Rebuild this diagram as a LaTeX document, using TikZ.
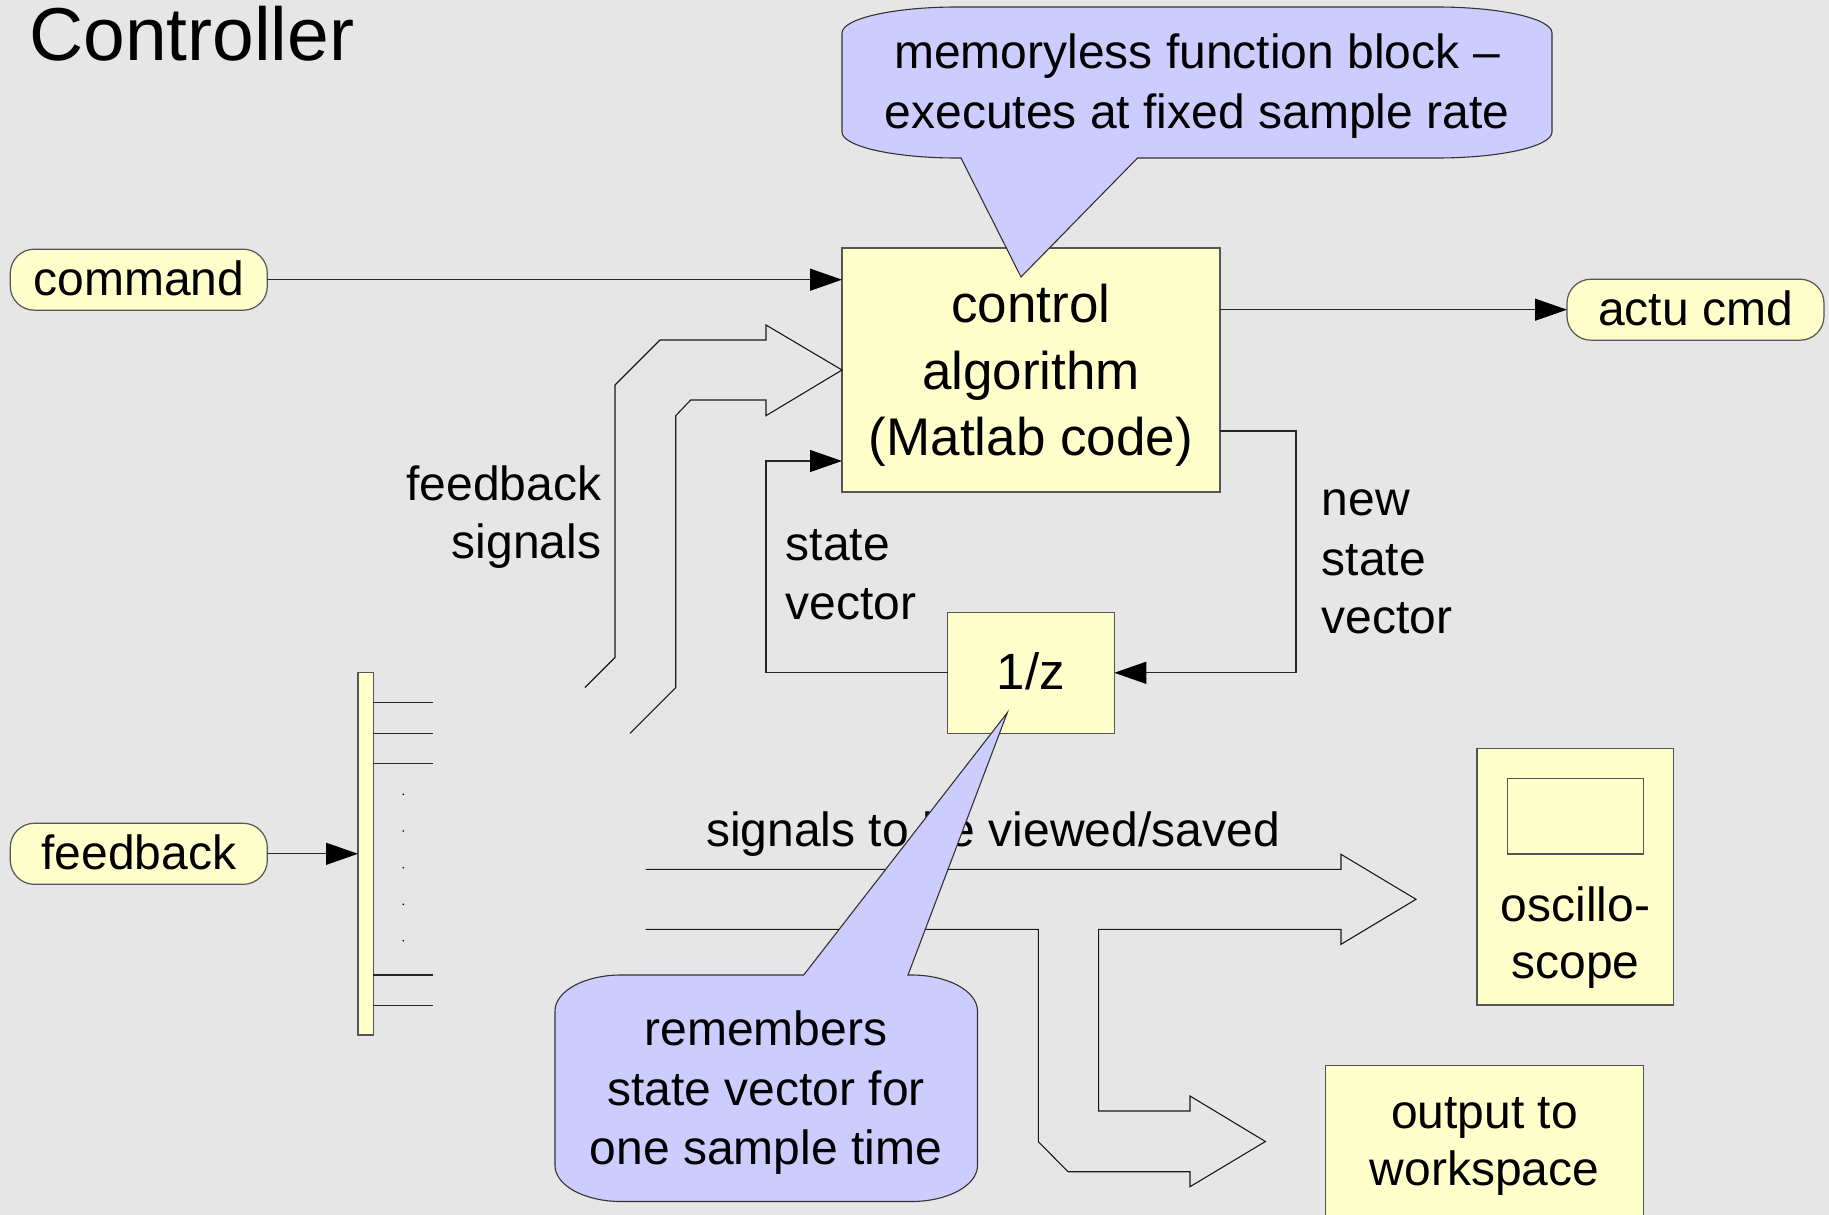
\documentclass[tikz,border=0pt]{standalone}
\usepackage{fontspec}
\setmainfont{Liberation Sans}
\usetikzlibrary{arrows.meta}
\definecolor{bg}{HTML}{E6E6E6}
\definecolor{ylw}{HTML}{FFFFCC}
\definecolor{lav}{HTML}{CCCCFF}
\definecolor{bord}{HTML}{555555}
\begin{document}
\begin{tikzpicture}[x=1pt,y=-1pt]
\tikzset{
  ybox/.style={draw=bord, fill=ylw, line width=1.2pt, inner sep=0pt, outer sep=0pt},
  pill/.style={ybox, rounded corners=24pt, minimum width=257pt, minimum height=61pt,
               text height=32pt, text depth=0pt, font=\fontsize{48}{58}\selectfont},
  lbl/.style={font=\fontsize{48}{58}\selectfont, inner sep=0pt},
  ctrlfont/.style={font=\fontsize{53}{64}\selectfont, inner sep=0pt},
  conn/.style={line width=1.2pt, draw=black!85},
  arr/.style={conn, -{Triangle[length=32pt,width=22pt,color=black]}},
  fat/.style={line width=1.1pt, draw=black!90},
  callout/.style={draw=black!80, fill=lav, line width=1.1pt},
  busline/.style={line width=1.2pt, draw=black!85}
}
\useasboundingbox (0,0) rectangle (1829,1215);
\fill[bg] (0,0) rectangle (1829,1215);
\clip (0,0) rectangle (1829,1215);

% title
\node[anchor=base west, inner sep=0pt, font=\fontsize{75}{90}\selectfont] (title) at (29,61) {Controller};

% main blocks
\node[ybox, minimum width=378pt, minimum height=244pt] (ctrl) at (1031,370) {};
\node[ctrlfont, anchor=base] (c1) at (1031,322.5) {control};
\node[ctrlfont, anchor=base] (c2) at (1031,389) {algorithm};
\node[ctrlfont, anchor=base] (c3) at (1031,455.5) {(Matlab code)};

\node[ybox, minimum width=166.6pt, minimum height=121pt, text height=34pt, text depth=0pt,
      font=\fontsize{51}{61}\selectfont] (delay) at (1031,672.8) {1/z};

\node[pill] (cmd) at (138.8,279.7) {command};
\node[pill] (fb) at (138.8,853.8) {feedback};
\node[pill] (actu) at (1695.5,309.7) {actu cmd};

\node[ybox, minimum width=15.3pt, minimum height=362.3pt] (bus) at (365.65,853.85) {};

\node[ybox, minimum width=196.8pt, minimum height=256.7pt] (scope) at (1575.4,876.7) {};
\node[ybox, minimum width=136pt, minimum height=75.7pt] (screen) at (1575.5,816.2) {};
\node[lbl, anchor=base] (s1) at (1575.4,921.7) {oscillo-};
\node[lbl, anchor=base] (s2) at (1575.4,978) {scope};

\node[ybox, minimum width=318.2pt, minimum height=164.6pt] (ws) at (1484.4,1148) {};
\node[lbl, anchor=base] (w1) at (1484.4,1128) {output to};
\node[lbl, anchor=base] (w2) at (1484.4,1185) {workspace};

% bus outputs
\foreach \yy in {702.7,733.3,763.3,975,1005.3}{
  \draw[busline] (bus.east |- 0,\yy) -- (433,\yy);
}
\foreach \yy in {794.3,831,867.7,904.3,940.7}{
  \fill[black] (403.3,\yy) circle (0.9pt);
}

% connectors
\draw[arr] (cmd.east) -- (ctrl.west |- cmd.east);
\draw[arr] (ctrl.east |- actu.west) -- (actu.west);
\draw[arr] (fb.east) -- (bus.west |- fb.east);
\coordinate (svbend) at (766,461);
\draw[arr] (delay.west) -| (svbend) -- (ctrl.west |- svbend);
\coordinate (nsbend) at (1296,431);
\draw[arr] (ctrl.east |- nsbend) -- (nsbend) |- (delay.east);

% feedback signals fat arrow
\draw[fat] (585,687.5) -- (615,657.5) -- (615,385) -- (660,340) -- (766,340) -- (766,325) -- (ctrl.west |- 0,370)
           -- (766,415.7) -- (766,400) -- (690.7,400) -- (675.7,415.7) -- (675.7,687.7) -- (630,733.3);

% signals to be viewed/saved fat arrow
\draw[fat] (645.5,869.3) -- (1341,869.3) -- (1341,854.3) -- (1416,899.3) -- (1341,944.3) -- (1341,929.3)
           -- (1098.6,929.3) -- (1098.6,1111) -- (1190,1111) -- (1190,1096) -- (1265.4,1141.5)
           -- (1190,1186.7) -- (1190,1171.7) -- (1068,1171.7) -- (1038.4,1141.7) -- (1038.4,929.3) -- (645.5,929.3);

% labels
\node[lbl, anchor=base east] (fs1) at (601.5,500) {feedback};
\node[lbl, anchor=base east] (fs2) at (601.5,558) {signals};
\node[lbl, anchor=base west] (sv1) at (785.5,560.5) {state};
\node[lbl, anchor=base west] (sv2) at (785.5,619) {vector};
\node[lbl, anchor=base west] (ns1) at (1321.5,515) {new};
\node[lbl, anchor=base west] (ns2) at (1321.5,575) {state};
\node[lbl, anchor=base west] (ns3) at (1321.5,633) {vector};
\node[lbl, anchor=base west] (sig) at (706,846) {signals to be viewed/saved};

% top callout
\draw[callout] (1137.5,158) -- (1021,277) -- (961,158) -- (957,158)
  .. controls (893.5,158) and (842,146.4) .. (842,132) -- (842,33)
  .. controls (842,18.6) and (893.5,7) .. (957,7) -- (1437,7)
  .. controls (1500.5,7) and (1552,18.6) .. (1552,33) -- (1552,132)
  .. controls (1552,146.4) and (1500.5,158) .. (1437,158) -- cycle;
\node[lbl, anchor=base] (m1) at (1197,68.5) {memoryless function block –};
\node[lbl, anchor=base] (m2) at (1197,128.5) {executes at fixed sample rate};

% bottom callout
\draw[callout] (803.7,975) -- (1007.3,712.7) -- (908,975) -- (911.5,975)
  .. controls (947.9,975) and (977.5,991.1) .. (977.5,1011) -- (977.5,1165.5)
  .. controls (977.5,1185.4) and (947.9,1201.5) .. (911.5,1201.5) -- (621,1201.5)
  .. controls (584.6,1201.5) and (555,1185.4) .. (555,1165.5) -- (555,1011)
  .. controls (555,991.1) and (584.6,975) .. (621,975) -- cycle;
\node[lbl, anchor=base] (r1) at (766,1045) {remembers};
\node[lbl, anchor=base] (r2) at (766,1105) {state vector for};
\node[lbl, anchor=base] (r3) at (766,1164) {one sample time};
\end{tikzpicture}
\end{document}
